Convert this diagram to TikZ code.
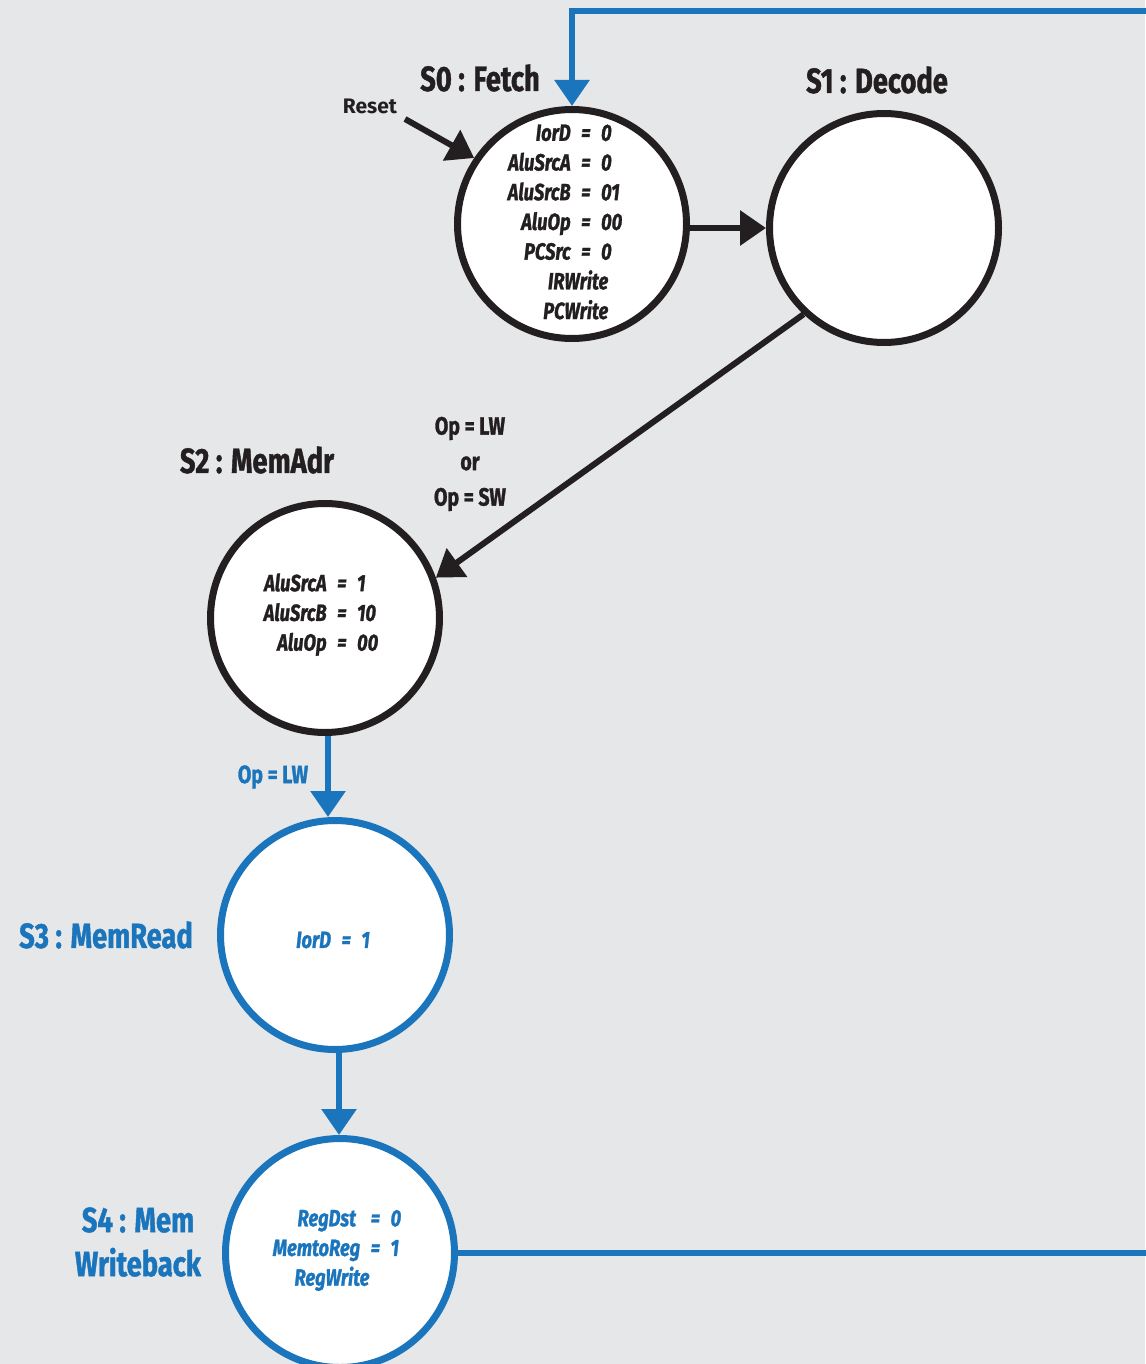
\documentclass[tikz,border=0pt]{standalone}
\usepackage{fontspec}
\setmainfont{Fira Sans}
\newfontfamily\condfont{Fira Sans}[FakeStretch=0.78,FakeBold=1.2]
\usetikzlibrary{arrows.meta}
\definecolor{bg}{HTML}{E6E7E8}
\definecolor{ink}{HTML}{231F20}
\definecolor{fsmblue}{HTML}{1B75BC}
\newcommand{\eqsep}{\hspace{0.45em}=\hspace{0.45em}}

\begin{document}
\begin{tikzpicture}[x=1pt,y=-1pt,
  fsmstate/.style={circle,draw=ink,fill=white,line width=7pt,minimum size=229pt,inner sep=0pt},
  bstate/.style={fsmstate,draw=fsmblue},
  statename/.style={font=\condfont\bfseries\fontsize{35}{44}\selectfont,text=ink,align=center,inner sep=0pt},
  bstatename/.style={statename,text=fsmblue},
  outs/.style={font=\condfont\bfseries\itshape\fontsize{23.5}{29.7}\selectfont,text=ink,inner sep=0pt},
  bouts/.style={outs,text=fsmblue},
  guard/.style={font=\condfont\bfseries\fontsize{25}{35.5}\selectfont,text=ink,align=center,inner sep=0pt},
  bguard/.style={guard,text=fsmblue},
  trans/.style={draw=ink,line width=6pt,-{Triangle[width=34pt,length=26pt]}},
  btrans/.style={trans,draw=fsmblue},
]
% canvas
\fill[bg] (0,0) rectangle (1145,1364);
\useasboundingbox (0,0) rectangle (1145,1364);

% states
\node[fsmstate] (s0) at (572,224) {};
\node[fsmstate] (s1) at (884,228) {};
\node[fsmstate] (s2) at (325,618) {};
\node[bstate]   (s3) at (335,935) {};
\node[bstate]   (s4) at (340,1253) {};

% state names
\node[statename]  (n0) at (480,78)  {S0 : Fetch};
\node[statename]  (n1) at (877,80)  {S1 : Decode};
\node[statename]  (n2) at (257,460) {S2 : MemAdr};
\node[bstatename] (n3) at (106,935) {S3 : MemRead};
\node[bstatename] (n4) at (138,1242) {S4 : Mem\\Writeback};

% state outputs
\node[outs] (o0) at (565,224) {\begin{tabular}{@{}r@{\eqsep}l@{}}
IorD\ & 0\\
AluSrcA & 0\\
AluSrcB & 01\\
AluOp & 00\\
PCSrc & 0\\
\multicolumn{2}{r@{}}{IRWrite\kern14pt}\\
\multicolumn{2}{r@{}}{PCWrite\kern14pt}
\end{tabular}};
\node[outs] (o2) at (321,615) {\begin{tabular}{@{}r@{\eqsep}l@{}}
AluSrcA & 1\\
AluSrcB & 10\\
AluOp & 00
\end{tabular}};
\node[bouts] (o3) at (333,940) {IorD\eqsep 1};
\node[bouts] (o4) at (337,1250) {\begin{tabular}{@{}r@{\eqsep}l@{}}
RegDst\ \ & 0\\
MemtoReg & 1\\
\multicolumn{2}{c}{RegWrite\kern10pt}
\end{tabular}};

% reset entry
\node[font=\bfseries\fontsize{21}{24}\selectfont,text=ink,inner sep=0pt] (rst) at (370,106) {Reset};
\coordinate (rstfrom) at (405,119);
\draw[trans] (rstfrom) -- (s0.146);

% transitions
\draw[trans] (s0.east |- s1.west) -- (s1.west);
\draw[trans] (s1.-133) -- (s2.20);
\node[guard] (g12) at (470,464) {Op = LW\\or\\Op = SW};
\draw[btrans] (s2.south -| 328,0) -- (s3.north -| 328,0);
\node[bguard] (g23) at (273,777) {Op = LW};
\draw[btrans] (s3.south -| 339,0) -- (s4.north -| 339,0);

% return to fetch
\coordinate (loopR) at (1185,11);
\draw[btrans] (s4.east) -| (loopR) -| (s0.north);
\end{tikzpicture}
\end{document}
